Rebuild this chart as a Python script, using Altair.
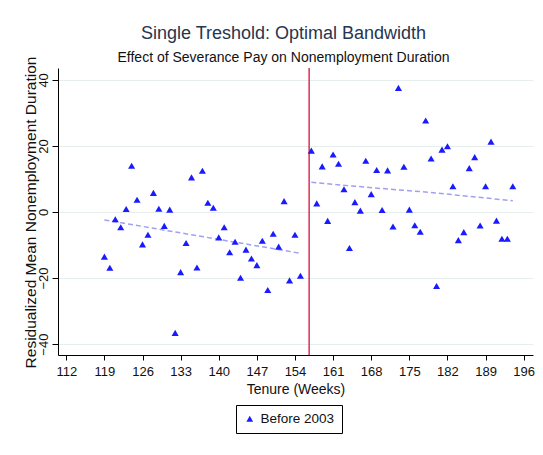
import altair as alt
import pandas as pd

# ---- data ----
left_weeks = [119, 120, 121, 122, 123, 124, 125, 126, 127, 128, 129, 130, 131, 132,
              133, 134, 135, 136, 137, 138, 139, 140, 141, 142, 143, 144, 145, 146,
              147, 148, 149, 150, 151, 152, 153, 154, 155]
left_values = [-13.5, -16.9, -2.2, -4.6, 0.9, 14.0, 3.7, -9.8, -6.9, 5.8, 1.0, -4.2,
               0.7, -36.6, -18.2, -9.4, 10.5, -16.8, 12.5, 2.8, 1.3, -7.7, -4.6, -12.2,
               -9.0, -19.9, -11.4, -14.1, -16.1, -8.7, -23.6, -6.6, -10.5, 3.3, -20.7,
               -6.9, -19.3]
right_weeks = [157, 158, 159, 160, 161, 162, 163, 164, 165, 166, 167, 168, 169, 170,
               171, 172, 173, 174, 175, 176, 177, 178, 179, 180, 181, 182, 183, 184,
               185, 186, 187, 188, 189, 190, 191, 192, 193, 194]
right_values = [18.6, 2.6, 13.8, -2.7, 17.4, 14.6, 6.9, -10.9, 3.0, 0.4, 15.5, 5.4,
                12.7, 0.6, 12.6, -4.4, 37.6, 13.7, 0.7, -4.0, -6.0, 27.7, 16.2, -22.4,
                18.9, 19.9, 7.8, -8.5, -6.1, 13.3, 16.6, -4.1, 7.8, 21.3, -2.6, -8.1,
                -8.1, 7.8]
fit_left_weeks = [119, 155]
fit_left_values = [-2.4, -12.5]
fit_right_weeks = [157, 167, 179, 194]
fit_right_values = [9.0, 7.5, 5.9, 3.4]
cutoff_week = [156.6]
series_name = "Before 2003"
x_ticks = [112, 119, 126, 133, 140, 147, 154, 161, 168, 175, 182, 189, 196]
y_ticks = [-40, -20, 0, 20, 40]

points = pd.DataFrame({
    "week": left_weeks + right_weeks,
    "value": left_values + right_values,
    "series": [series_name] * (len(left_weeks) + len(right_weeks)),
})
fit = pd.DataFrame({
    "week": fit_left_weeks + fit_right_weeks,
    "value": fit_left_values + fit_right_values,
    "side": ["left"] * len(fit_left_weeks) + ["right"] * len(fit_right_weeks),
})
cut = pd.DataFrame({"week": cutoff_week})

FONT = "Liberation Sans"

x_scale = alt.Scale(domain=[110.48, 197.71], nice=False, zero=False)
y_scale = alt.Scale(domain=[-43.3, 43.6], nice=False, zero=False)

x_enc = alt.X("week:Q", scale=x_scale, axis=alt.Axis(
    title="Tenure (Weeks)", values=x_ticks, grid=False, tickSize=5,
    tickColor="black", domainColor="black", labelFontSize=13, labelFont=FONT,
    labelColor="#111111", labelPadding=5, labelFlush=False, labelOverlap=False,
    titleFontSize=14, titleFont=FONT, titleFontWeight="normal", titleColor="#111111",
    titleY=38, titleBaseline="alphabetic"))
y_enc = alt.Y("value:Q", scale=y_scale, axis=alt.Axis(
    title="Residualized Mean Nonemployment Duration", values=y_ticks, grid=True,
    gridColor="#e6eeee", gridWidth=1.2, tickSize=6, tickColor="black",
    domainColor="black", labelFontSize=13, labelFont=FONT, labelColor="#111111",
    labelAngle=270, labelAlign="center", labelBaseline="alphabetic", labelPadding=5,
    labelFlush=False, labelOverlap=False,
    titleFontSize=15.5, titleFont=FONT, titleFontWeight="normal", titleColor="#111111",
    titleAngle=270, titleX=-23, titleY=144, titleAlign="center",
    titleBaseline="alphabetic"))

fit_layer = alt.Chart(fit).mark_line(
    strokeDash=[5, 3], color="#a0a0f0", strokeWidth=1.5
).encode(x=x_enc, y=y_enc, detail="side:N")

rule_layer = alt.Chart(cut).mark_rule(
    color="#dc2f55", strokeWidth=1.5
).encode(x=x_enc)

legend = alt.Legend(
    title=None, orient="none", legendX=178, legendY=337, strokeColor="black",
    fillColor="white", padding=7, labelFontSize=13.5, labelFont=FONT,
    labelColor="#111111", symbolSize=45, labelOffset=4, cornerRadius=0)

point_layer = alt.Chart(points).mark_point(
    filled=True, size=50, opacity=1
).encode(
    x=x_enc, y=y_enc,
    color=alt.Color("series:N", scale=alt.Scale(domain=[series_name], range=["#1a1aff"]), legend=legend),
    shape=alt.Shape("series:N", scale=alt.Scale(domain=[series_name], range=["triangle-up"]), legend=legend),
)

chart = alt.layer(fit_layer, rule_layer, point_layer).properties(
    width=475, height=287,
    autosize=alt.AutoSizeParams(type="none"),
    padding={"left": 50, "top": 60, "right": 2, "bottom": 92},
    title=alt.TitleParams(
        text="Single Treshold: Optimal Bandwidth",
        subtitle="Effect of Severance Pay on Nonemployment Duration",
        fontSize=18, subtitleFontSize=14, font=FONT, subtitleFont=FONT,
        fontWeight="normal", color="#263550", subtitleColor="#111111",
        anchor="middle", dx=-12, dy=11, offset=2, subtitlePadding=8),
    background="white",
).configure_view(strokeWidth=0)

chart.save("out.html", embed_options={"renderer": "svg", "actions": False})
